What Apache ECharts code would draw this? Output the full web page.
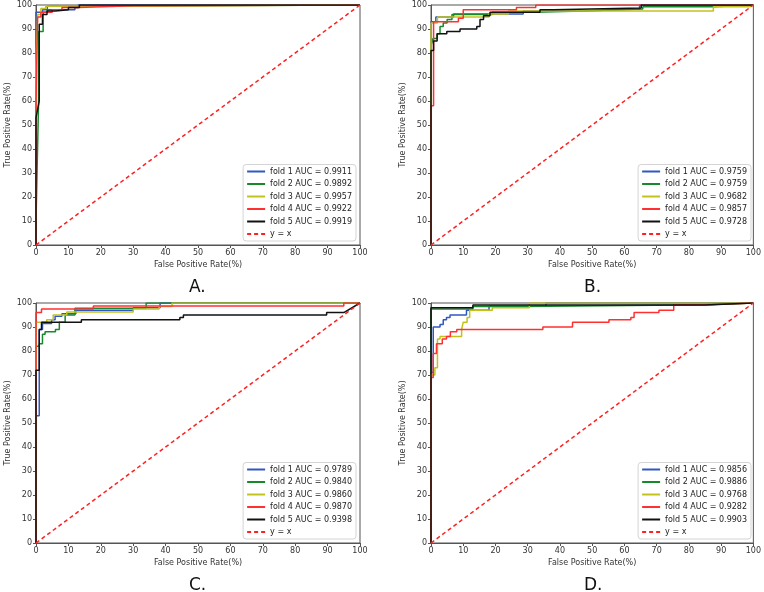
<!DOCTYPE html>
<html style="height: 100%">
<head>
    <meta charset="utf-8">
    <script src="https://cdn.jsdelivr.net/npm/echarts@6/dist/echarts.min.js"></script>
</head>
<body style="height: 100%; margin: 0; background: #fff">
    <div id="main" style="width: 764px; height: 592px;"></div>
    <script type="text/javascript">
    // ROC points: [FPR(%), TPR(%)]
    var panelNames = ['A.', 'B.', 'C.', 'D.'];
    var aucA = ['0.9911', '0.9892', '0.9957', '0.9922', '0.9919'];
    var aucB = ['0.9759', '0.9759', '0.9682', '0.9857', '0.9728'];
    var aucC = ['0.9789', '0.9840', '0.9860', '0.9870', '0.9398'];
    var aucD = ['0.9856', '0.9886', '0.9768', '0.9282', '0.9903'];

    var rocA1 = [[0,0],[0,47],[0,97],[2,97],[2,98],[12,98],[12,99],[13,99],[13,100],[100,100]];
    var rocA2 = [[0,0],[0,10],[0.8,60],[0.8,89],[2.2,89],[2.2,97],[3.5,97],[3.5,99.5],[13,99.5],[13,100],[100,100]];
    var rocA3 = [[0,0],[0,74],[0.5,96],[1.5,96],[1.5,98.5],[3,98.5],[3,99.5],[12,99.5],[12,100],[100,100]];
    var rocA4 = [[0,0],[0,60],[0.5,60],[0.5,95],[1.5,95],[1.5,97],[5,97],[5,98],[8,98],[8,99],[13,99],[13,99.7],[30,99.7],[30,100],[100,100]];
    var rocA5 = [[0,0],[0,53],[1,60],[1,92],[2,92],[2,96],[3.4,96],[3.4,97.5],[6,97.5],[6,98],[10,98],[10,99],[13.4,99],[13.4,100],[100,100]];

    var rocB1 = [[0,0],[0,93],[1.5,93],[1.5,95],[7,95],[7,96.3],[28.6,96.3],[28.6,97.5],[47,97.5],[47,98.3],[64.7,98.3],[64.7,100],[100,100]];
    var rocB2 = [[0,0],[0,83],[0.6,83],[0.6,86],[1.9,86],[1.9,88],[2.8,88],[2.8,91],[3.8,91],[3.8,92.5],[5,92.5],[5,94],[6.5,94],[6.5,96],[19,96],[19,97],[32,97],[32,97.5],[47,97.5],[47,98.3],[65.7,98.3],[65.7,99.3],[87.6,99.3],[87.6,100],[100,100]];
    var rocB3 = [[0,0],[0,92.5],[2,92.5],[2,95],[18,95],[18,96.3],[24,96.3],[24,97.5],[87.6,97.5],[87.6,99.3],[99,99.3],[100,100]];
    var rocB4 = [[0,0],[0,58],[0.8,58],[0.8,93],[8.5,93],[8.5,94.5],[10,94.5],[10,98],[26.5,98],[26.5,99],[32.5,99],[32.5,100],[100,100]];
    var rocB5 = [[0,0],[0,81],[0.8,81],[0.8,85],[1.9,85],[1.9,88],[4.9,88],[4.9,89],[9,89],[9,90],[14.2,90],[14.2,91],[15.2,91],[15.2,94],[16.3,94],[16.3,95.5],[18.3,95.5],[18.3,97],[33.8,97],[33.8,98],[37.9,98],[37.9,98.8],[65.2,98.8],[65.2,100],[100,100]];

    var rocC1 = [[0,0],[0,53],[1,53],[1,89],[2,89],[2,91.5],[4.8,91.5],[4.8,93],[5.9,93],[5.9,94.5],[8,94.5],[8,95.5],[12.3,95.5],[12.3,97],[30,97],[30,98],[38.3,98],[38.3,100],[100,100]];
    var rocC2 = [[0,0],[0,82],[1,82],[1,83],[2,83],[2,87],[2.8,87],[2.8,88],[6,88],[6,89],[7.2,89],[7.2,92],[9,92],[9,95],[12,95],[12,97.8],[34,97.8],[34,100],[100,100]];
    var rocC3 = [[0,0],[0,92],[3.3,92],[3.3,93],[5.3,93],[5.3,95],[9.5,95],[9.5,96.3],[30,96.3],[30,97.5],[38,97.5],[38,98.5],[42,98.5],[42,100],[100,100]];
    var rocC4 = [[0,0],[0,96],[1.7,96],[1.7,97.5],[17.7,97.5],[17.7,98.8],[95,98.8],[95,100],[100,100]];
    var rocC5 = [[0,0],[0,72],[1,72],[1,89],[1.7,89],[1.7,92],[14,92],[14,93],[44.4,93],[44.4,94],[45.5,94],[45.5,95],[89.7,95],[89.7,96],[95,96],[100,100]];

    var rocD1 = [[0,0],[0,71],[0.7,71],[0.7,90],[2.8,90],[2.8,91],[3.8,91],[3.8,93],[4.8,93],[4.8,94],[5.9,94],[5.9,95],[11,95],[11,97],[18,97],[18,98.6],[35.7,98.6],[35.7,100],[100,100]];
    var rocD2 = [[0,0],[0,97.5],[13,97.5],[13,98.5],[28,98.5],[28,99.3],[86,99.3],[86,100],[100,100]];
    var rocD3 = [[0,0],[0,70],[1.2,70],[1.2,73],[2,73],[2,85],[2.8,85],[2.8,86],[9.5,86],[9.5,89],[10,89],[10,92],[11.2,92],[11.2,94],[12,94],[12,97],[19,97],[19,98],[30.5,98],[30.5,100],[100,100]];
    var rocD4 = [[0,0],[0,69],[0.7,69],[0.7,79],[1.7,79],[1.7,83],[3.5,83],[3.5,85],[4.8,85],[4.8,86],[6,86],[6,88],[8,88],[8,89],[34.7,89],[34.7,90],[43.9,90],[43.9,92],[55.2,92],[55.2,93],[62,93],[62,94],[63,94],[63,96],[70.7,96],[70.7,97],[75.3,97],[75.3,99.3],[84.6,99.3],[84.6,100],[100,100]];
    var rocD5 = [[0,0],[0,98],[13,98],[13,99.2],[85,99.2],[85,100],[100,100]];

    var diagonal = [[0,0],[100,100]];
    var ticks = [0, 10, 20, 30, 40, 50, 60, 70, 80, 90, 100];

    var panels = [
        {auc: aucA, rocs: [rocA1, rocA2, rocA3, rocA4, rocA5]},
        {auc: aucB, rocs: [rocB1, rocB2, rocB3, rocB4, rocB5]},
        {auc: aucC, rocs: [rocC1, rocC2, rocC3, rocC4, rocC5]},
        {auc: aucD, rocs: [rocD1, rocD2, rocD3, rocD4, rocD5]}
    ];

    var foldColors = ['#3157c2', '#17892c', '#c2c21c', '#ff3030', '#111111'];
    var font = 'DejaVu Sans';
    // plot boxes in pixels: left, top
    var boxes = [[36, 5], [431, 5], [36, 303], [431, 303]];
    var plotW = 324, plotH = 240;

    var grids = [], xAxes = [], yAxes = [], legends = [], series = [], graphics = [];

    panels.forEach(function (p, k) {
        var b = boxes[k];
        grids.push({
            left: b[0], top: b[1], width: plotW, height: plotH,
            show: true, borderColor: '#555', borderWidth: 1, backgroundColor: 'transparent'
        });
        var axisCommon = {
            type: 'value', min: ticks[0], max: ticks[ticks.length - 1], interval: 10,
            gridIndex: k,
            axisLine: {show: true, onZero: false, lineStyle: {color: '#555', width: 1}},
            axisTick: {show: true, length: 3, lineStyle: {color: '#555'}},
            axisLabel: {fontSize: 8, color: '#333', fontFamily: font, margin: 4},
            splitLine: {show: false},
            nameLocation: 'middle',
            nameTextStyle: {fontSize: 8, color: '#333', fontFamily: font}
        };
        xAxes.push(Object.assign({}, axisCommon, {name: 'False Positive Rate(%)', nameGap: 16}));
        yAxes.push(Object.assign({}, axisCommon, {name: 'True Positive Rate(%)', nameGap: 24}));

        var names = [];
        p.rocs.forEach(function (roc, i) {
            var nm = 'fold ' + (i + 1) + ' AUC = ' + p.auc[i];
            names.push(nm);
            series.push({
                name: nm, type: 'line', xAxisIndex: k, yAxisIndex: k,
                data: roc, symbol: 'none', animation: false,
                lineStyle: {color: foldColors[i], width: 1.5},
                itemStyle: {color: foldColors[i]}
            });
        });
        series.push({
            name: 'y = x', type: 'line', xAxisIndex: k, yAxisIndex: k,
            data: diagonal, symbol: 'none', animation: false,
            lineStyle: {color: '#ff2020', width: 1.5, type: [4, 3]},
            itemStyle: {color: '#ff2020'}
        });
        names.push('y = x');

        legends.push({
            data: names, orient: 'vertical',
            right: 764 - (b[0] + plotW - 4), bottom: 592 - (b[1] + plotH - 4),
            itemWidth: 18, itemHeight: 8, itemGap: 4.5,
            padding: [3, 4, 3, 3],
            backgroundColor: 'rgba(255,255,255,0.85)',
            borderColor: '#d4d4d4', borderWidth: 1, borderRadius: 3,
            selectedMode: false,
            // hide the marker dot, keep the line sample
            itemStyle: {opacity: 0},
            textStyle: {fontSize: 8, color: '#222', fontFamily: font}
        });

        graphics.push({
            type: 'text', left: b[0] + plotW / 2 - 9, top: b[1] + plotH + 34,
            style: {text: panelNames[k], fontSize: 17, fill: '#111', fontFamily: font}
        });
    });

    var myChart = echarts.init(document.getElementById('main'), null, {renderer: 'canvas'});
    myChart.setOption({
        backgroundColor: '#fff',
        animation: false,
        grid: grids,
        xAxis: xAxes,
        yAxis: yAxes,
        legend: legends,
        series: series,
        graphic: graphics
    });
    </script>
</body>
</html>
